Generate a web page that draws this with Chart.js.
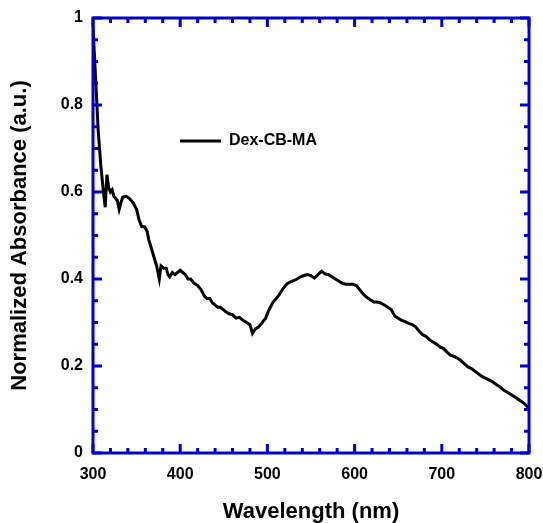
<!DOCTYPE html>
<html>
<head>
<meta charset="utf-8">
<script src="https://cdn.jsdelivr.net/npm/chart.js@4/dist/chart.umd.min.js"></script>
<style>
html,body{margin:0;padding:0;background:#fff;}
canvas{display:block;}
</style>
</head>
<body>
<canvas id="c" width="543" height="523"></canvas>
<script>
// ---- data ----
const seriesLabel = 'Dex-CB-MA';
const wavelength = [
300,303,306,309,312,314,316,318,320,322,324,326,328,330,332,334,338,342,346,350,
353,356,359,362,364,367,370,373,376,378,381,384,386,388,391,394,397,400,403,406,
409,412,416,420,424,428,431,434,437,440,443,446,449,452,456,460,464,468,472,476,
480,483,486,490,494,498,502,506,510,514,518,522,526,530,534,538,542,546,550,554,
558,562,566,570,574,578,582,586,590,594,598,602,606,610,614,618,622,626,630,634,
638,642,646,650,654,658,662,666,670,674,678,682,686,690,694,698,702,706,710,714,
718,722,726,730,734,738,742,746,750,754,758,762,766,770,774,778,782,786,790,794,
798,800];
const absorbance = [
0.98,0.86,0.74,0.66,0.60,0.565,0.64,0.61,0.60,0.605,0.59,0.585,0.58,0.56,0.575,0.588,0.59,0.585,0.575,0.56,
0.535,0.52,0.52,0.51,0.49,0.47,0.45,0.43,0.40,0.43,0.425,0.425,0.41,0.405,0.415,0.41,0.415,0.42,0.415,0.41,
0.40,0.40,0.39,0.385,0.375,0.36,0.355,0.355,0.345,0.34,0.335,0.335,0.33,0.325,0.32,0.318,0.31,0.312,0.305,0.30,
0.295,0.275,0.285,0.29,0.30,0.31,0.33,0.345,0.355,0.365,0.378,0.388,0.393,0.396,0.40,0.405,0.408,0.41,0.408,0.402,
0.41,0.418,0.412,0.41,0.405,0.40,0.395,0.39,0.388,0.388,0.388,0.385,0.375,0.365,0.358,0.352,0.347,0.347,0.345,0.34,
0.335,0.33,0.315,0.31,0.305,0.302,0.298,0.295,0.29,0.28,0.272,0.268,0.26,0.255,0.25,0.244,0.24,0.232,0.225,0.222,
0.218,0.212,0.205,0.198,0.194,0.188,0.182,0.176,0.172,0.168,0.164,0.158,0.153,0.146,0.141,0.136,0.131,0.126,0.12,0.115,
0.107,0.103];

const xMajorTicks = [300,400,500,600,700,800];
const xMinorTicks = [320,340,360,380,420,440,460,480,520,540,560,580,620,640,660,680,720,740,760,780];
const yMajorTicks = [0,0.2,0.4,0.6,0.8,1];
const yTickLabels = ['0','0.2','0.4','0.6','0.8','1'];
const yMinorTicks = [0.05,0.1,0.15,0.25,0.3,0.35,0.45,0.5,0.55,0.65,0.7,0.75,0.85,0.9,0.95];
const xTitle = 'Wavelength (nm)';
const yTitle = 'Normalized Absorbance (a.u.)';

const BLUE = '#0000CD';
const FONT = 'Arial, "Liberation Sans", Helvetica, sans-serif';

const framePlugin = {
  id: 'frame',
  afterDatasetsDraw(chart) {
    const {ctx, chartArea: {left, right, top, bottom}, scales: {x, y}} = chart;
    ctx.save();
    ctx.strokeStyle = BLUE;
    ctx.lineWidth = 3;
    ctx.lineCap = 'butt';
    const MAJ = 9, MIN = 5;
    const tickX = (v, len) => {
      const px = x.getPixelForValue(v);
      ctx.beginPath();
      ctx.moveTo(px, bottom); ctx.lineTo(px, bottom - len);
      ctx.moveTo(px, top); ctx.lineTo(px, top + len);
      ctx.stroke();
    };
    const tickY = (v, len) => {
      const py = y.getPixelForValue(v);
      ctx.beginPath();
      ctx.moveTo(left, py); ctx.lineTo(left + len, py);
      ctx.moveTo(right, py); ctx.lineTo(right - len, py);
      ctx.stroke();
    };
    xMajorTicks.forEach(v => tickX(v, MAJ));
    xMinorTicks.forEach(v => tickX(v, MIN));
    yMajorTicks.forEach(v => tickY(v, MAJ));
    yMinorTicks.forEach(v => tickY(v, MIN));
    ctx.strokeRect(left, top, right - left, bottom - top);
    ctx.restore();
  }
};

new Chart(document.getElementById('c'), {
  type: 'line',
  data: {
    datasets: [{
      label: seriesLabel,
      data: wavelength.map((w, i) => ({x: w, y: absorbance[i]})),
      borderColor: '#000',
      backgroundColor: '#000',
      borderWidth: 3,
      pointRadius: 0,
      tension: 0,
      fill: false
    }]
  },
  options: {
    responsive: false,
    animation: false,
    events: [],
    layout: {padding: {left: 0, right: 14, top: 18, bottom: 0}},
    plugins: {
      tooltip: {enabled: false},
      legend: {
        display: true,
        position: 'chartArea',
        align: 'start',
        title: {display: true, text: '', font: {size: 12, lineHeight: 1}, padding: {top: 0, bottom: 34}},
        labels: {
          usePointStyle: true,
          pointStyle: 'line',
          pointStyleWidth: 41,
          boxHeight: 16,
          padding: 87,
          color: '#000',
          font: {family: FONT, size: 16, weight: 'bold'}
        }
      }
    },
    scales: {
      x: {
        type: 'linear',
        min: 300, max: 800,
        afterBuildTicks: s => { s.ticks = xMajorTicks.map(v => ({value: v})); },
        afterFit: s => { s.height = 70; s.paddingLeft = 0; s.paddingRight = 0; },
        grid: {display: false, drawTicks: false},
        border: {display: false},
        ticks: {color: '#000', padding: 12, maxRotation: 0, font: {family: FONT, size: 16, weight: 'bold'}},
        title: {display: true, text: xTitle, color: '#000', padding: {top: 0, bottom: 0},
                font: {family: FONT, size: 22, weight: 'bold', lineHeight: 1}}
      },
      y: {
        type: 'linear',
        min: 0, max: 1,
        afterBuildTicks: s => { s.ticks = yMajorTicks.map(v => ({value: v})); },
        afterFit: s => { s.width = 93; s.paddingTop = 0; s.paddingBottom = 0; },
        grid: {display: false, drawTicks: false},
        border: {display: false},
        ticks: {color: '#000', padding: 10, font: {family: FONT, size: 16, weight: 'bold'},
                callback: (v, i) => yTickLabels[i]},
        title: {display: true, text: yTitle, color: '#000', padding: {top: 9, bottom: 0},
                font: {family: FONT, size: 22, weight: 'bold', lineHeight: 1}}
      }
    }
  },
  plugins: [framePlugin]
});
</script>
</body>
</html>
